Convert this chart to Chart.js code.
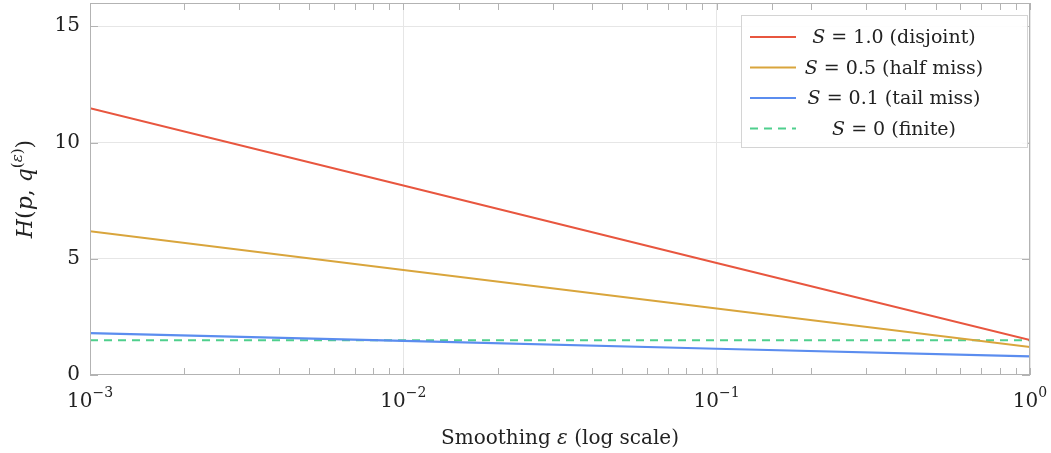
<!DOCTYPE html>
<html>
<head>
<meta charset="utf-8">
<script src="https://cdn.jsdelivr.net/npm/chart.js@4"></script>
<style>
  html, body { margin: 0; padding: 0; background: #fff; }
  #wrap { width: 1051px; height: 453px; }
</style>
</head>
<body>
<div id="wrap"><canvas id="myChart" width="1051" height="453"></canvas></div>
<script>
'use strict';

// smoothing values (x) and H(p, q^(eps)) per series
let epsValues = [0.001, 0.01, 0.1, 1];
let disjoint = [11.47, 8.15, 4.82, 1.5];
let halfMiss = [6.18, 4.52, 2.86, 1.2];
let tailMiss = [1.8, 1.47, 1.13, 0.8];
let finite = [1.5, 1.5, 1.5, 1.5];

let seriesNames = ['1.0 (disjoint)', '0.5 (half miss)', '0.1 (tail miss)', '0 (finite)'];
let yTickValues = [0, 5, 10, 15];
let xMajorTicks = [0.001, 0.01, 0.1, 1];
let xTickExponents = ['\u22123', '\u22122', '\u22121', '0'];

const serif = '"DejaVu Serif", "Liberation Serif", serif';
const frameColor = '#b3b3b3';
const gridColor = '#e6e6e6';

function toPoints(ys) {
  return epsValues.map((x, i) => ({ x: x, y: ys[i] }));
}

function isMajor(v) {
  let l = Math.log10(v);
  return Math.abs(l - Math.round(l)) < 1e-9;
}

// draws a run of [text, style, size, dy] pieces centered on cx
function drawParts(ctx, parts, cx, cy) {
  let total = 0;
  parts.forEach(p => { ctx.font = p[1] + p[2] + 'px ' + serif; total += ctx.measureText(p[0]).width; });
  let x = cx - total / 2;
  ctx.textAlign = 'left';
  ctx.textBaseline = 'alphabetic';
  parts.forEach(p => {
    ctx.font = p[1] + p[2] + 'px ' + serif;
    ctx.fillText(p[0], x, cy + (p[3] || 0));
    x += ctx.measureText(p[0]).width;
  });
}

const decorPlugin = {
  id: 'decor',
  afterDraw(chart) {
    const ctx = chart.ctx;
    const area = chart.chartArea;
    const xs = chart.scales.x;
    const ys = chart.scales.y;
    ctx.save();

    // frame
    ctx.strokeStyle = frameColor;
    ctx.lineWidth = 1;
    ctx.strokeRect(area.left + 0.5, area.top + 0.5, area.right - area.left - 1, area.bottom - area.top - 1);

    // tick marks on x (bottom and top, pointing inside)
    ctx.beginPath();
    xs.ticks.forEach(t => {
      let px = Math.round(xs.getPixelForValue(t.value)) + 0.5;
      ctx.moveTo(px, area.bottom);
      ctx.lineTo(px, area.bottom - 7);
      ctx.moveTo(px, area.top);
      ctx.lineTo(px, area.top + 7);
    });
    // tick marks on y (left and right)
    yTickValues.forEach(v => {
      let py = Math.round(ys.getPixelForValue(v)) + 0.5;
      ctx.moveTo(area.left, py);
      ctx.lineTo(area.left + 8, py);
      ctx.moveTo(area.right, py);
      ctx.lineTo(area.right - 8, py);
    });
    ctx.stroke();

    // x tick labels as 10^n, whole label centered on the tick
    ctx.fillStyle = '#222';
    xMajorTicks.forEach((v, i) => {
      let px = xs.getPixelForValue(v);
      drawParts(ctx, [['10', '', 20, 0], [xTickExponents[i], '', 14, -10]], px, area.bottom + 32);
    });

    // x title
    drawParts(ctx, [['Smoothing ', '', 20, 0], ['\u03b5', 'italic ', 20, 0], [' (log scale)', '', 20, 0]],
      (area.left + area.right) / 2, 444);

    // y title H(p, q^(eps))
    ctx.save();
    ctx.translate(32, (area.top + area.bottom) / 2);
    ctx.rotate(-Math.PI / 2);
    drawParts(ctx, [['H', 'italic ', 22, 0], ['(', '', 22, 0], ['p', 'italic ', 22, 0], [', ', '', 22, 0],
      ['q', 'italic ', 22, 0], ['(', '', 15, -10], ['\u03b5', 'italic ', 15, -10], [')', '', 15, -10],
      [')', '', 22, 0]], 0, 0);
    ctx.restore();

    // legend box
    let lx = area.right - 289, ly = area.top + 12, lw = 287, lh = 133;
    ctx.fillStyle = 'rgba(255,255,255,0.92)';
    ctx.fillRect(lx, ly, lw, lh);
    ctx.strokeStyle = '#d4d4d4';
    ctx.strokeRect(lx + 0.5, ly + 0.5, lw - 1, lh - 1);
    chart.data.datasets.forEach((ds, i) => {
      let rowY = ly + 22 + i * 30.5;
      ctx.strokeStyle = ds.borderColor;
      ctx.lineWidth = 2;
      ctx.setLineDash(ds.borderDash || []);
      ctx.beginPath();
      ctx.moveTo(lx + 9, rowY);
      ctx.lineTo(lx + 55, rowY);
      ctx.stroke();
      ctx.setLineDash([]);
      ctx.fillStyle = '#222';
      drawParts(ctx, [['S', 'italic ', 19, 0], [' = ' + seriesNames[i], '', 19, 0]], lx + 153, rowY + 6);
    });

    ctx.restore();
  }
};

const ctx = document.getElementById('myChart');

let config = {
  type: 'line',
  data: {
    datasets: [
      {
        label: 'S = ' + seriesNames[0],
        data: toPoints(disjoint),
        borderColor: '#e8563f',
        borderWidth: 2,
        pointRadius: 0
      },
      {
        label: 'S = ' + seriesNames[1],
        data: toPoints(halfMiss),
        borderColor: '#d9a53c',
        borderWidth: 2,
        pointRadius: 0
      },
      {
        label: 'S = ' + seriesNames[2],
        data: toPoints(tailMiss),
        borderColor: '#5b8def',
        borderWidth: 2.2,
        pointRadius: 0
      },
      {
        label: 'S = ' + seriesNames[3],
        data: toPoints(finite),
        borderColor: '#4fcf8d',
        borderWidth: 2,
        borderDash: [8, 6],
        pointRadius: 0
      }
    ]
  },
  options: {
    responsive: false,
    animation: false,
    layout: { padding: { top: 3, right: 21, left: 0, bottom: 0 } },
    plugins: {
      legend: { display: false },
      tooltip: { enabled: false }
    },
    scales: {
      x: {
        type: 'logarithmic',
        min: 0.001,
        max: 1,
        afterFit: (scale) => { scale.height = 78; scale.paddingLeft = 0; scale.paddingRight = 0; },
        ticks: { display: false },
        grid: {
          drawTicks: false,
          color: (c) => (c.tick && isMajor(c.tick.value) ? gridColor : 'rgba(0,0,0,0)')
        },
        border: { display: false }
      },
      y: {
        min: 0,
        max: 16,
        afterFit: (scale) => { scale.width = 90; scale.paddingTop = 0; scale.paddingBottom = 0; },
        afterBuildTicks: (scale) => { scale.ticks = yTickValues.map(v => ({ value: v })); },
        ticks: {
          padding: 10,
          color: '#222',
          font: { family: serif, size: 20 }
        },
        grid: {
          drawTicks: false,
          color: (c) => (c.tick && c.tick.value > 0 ? gridColor : 'rgba(0,0,0,0)')
        },
        border: { display: false }
      }
    }
  },
  plugins: [decorPlugin]
};

new Chart(ctx, config);
</script>
</body>
</html>
